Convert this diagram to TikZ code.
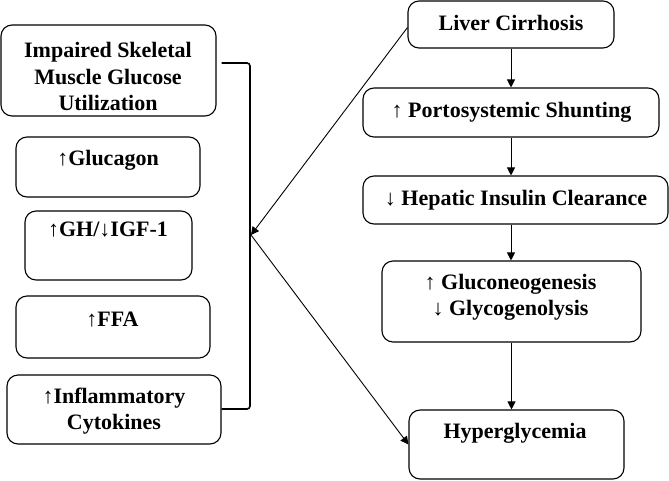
\documentclass[tikz,border=0pt]{standalone}
\usepackage{fontspec}
\setmainfont{Liberation Serif}
\usetikzlibrary{arrows.meta}
\begin{document}
\begin{tikzpicture}[x=1pt,y=-1pt,
  box/.style={draw, line width=1.1pt, rounded corners=11pt, inner sep=0pt},
  txt/.style={font=\bfseries\fontsize{22}{26.5}\selectfont, align=center, inner sep=0pt},
  arr/.style={line width=0.9pt, -{Triangle[length=8pt,width=8pt]}},
  brk/.style={line width=1.6pt, rounded corners=3pt}]
\useasboundingbox (0,0) rectangle (669,480);
% left column
\node[box, minimum width=215pt, minimum height=91pt] (imp) at (108.5,70.5) {};
\node[txt] (impt) at (108,76.5) {Impaired Skeletal\\Muscle Glucose\\Utilization};
\node[box, minimum width=184pt, minimum height=60pt] (glu) at (108,167) {};
\node[txt] (glut) at (108,160) {↑Glucagon};
\node[box, minimum width=167pt, minimum height=69pt] (gh) at (108.5,245.5) {};
\node[txt] (ght) at (108,230) {↑GH/↓IGF-1};
\node[box, minimum width=194pt, minimum height=62pt] (ffa) at (113,327) {};
\node[txt] (ffat) at (112.5,320) {↑FFA};
\node[box, minimum width=214pt, minimum height=69pt] (inf) at (114,409.5) {};
\node[txt] (inft) at (114,411) {↑Inflammatory\\Cytokines};
% right column
\node[box, minimum width=206pt, minimum height=47pt] (liv) at (511,24.5) {};
\node[txt] (livt) at (511,23) {Liver Cirrhosis};
\node[box, minimum width=296pt, minimum height=49pt] (por) at (511,112.5) {};
\node[txt] (port) at (511.5,112) {↑ Portosystemic Shunting};
\node[box, minimum width=305pt, minimum height=48pt] (hep) at (515.5,200) {};
\node[txt] (hept) at (516,200) {↓ Hepatic Insulin Clearance};
\node[box, minimum width=259pt, minimum height=81pt] (glc) at (511.5,301.5) {};
\node[txt] (glct) at (510.5,297.5) {↑ Gluconeogenesis\\↓ Glycogenolysis};
\node[box, minimum width=215pt, minimum height=69pt] (hyp) at (516.5,444.5) {};
\node[txt] (hypt) at (515,433) {Hyperglycemia};
% vertical arrows
\draw[arr] (liv.south) -- (liv.south |- por.north);
\draw[arr] (por.south) -- (por.south |- hep.north);
\draw[arr] (por.south |- hep.south) -- (por.south |- glc.north);
\draw[arr] (glc.south) -- (glc.south |- hyp.north);
% bracket
\coordinate (bt) at (250,63);
\coordinate (bb) at (250,409);
\coordinate (m) at (251,235);
\draw[brk] ([xshift=5pt]imp.east |- bt) -- (bt) -- (bb) -- (inf.east |- bb);
% diagonal arrows
\draw[arr] ([yshift=-3pt]liv.west) -- (m);
\draw[arr] (m) -- (hyp.west);
\end{tikzpicture}
\end{document}
